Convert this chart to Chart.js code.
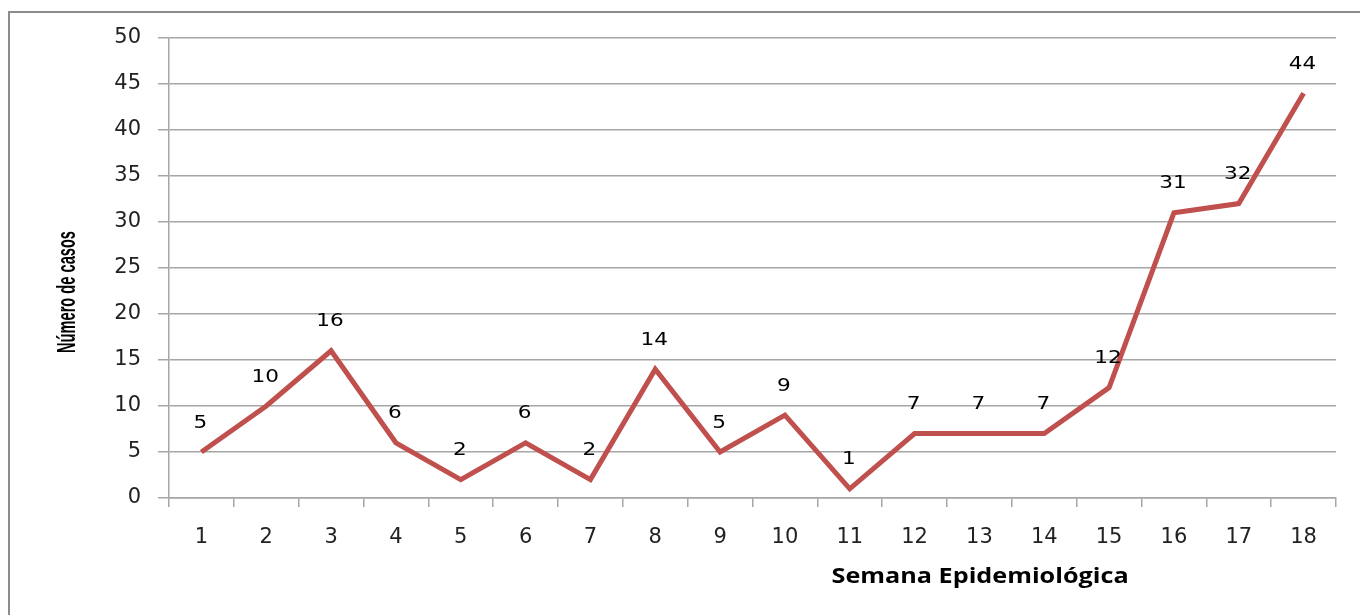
<!DOCTYPE html>
<html lang="pt-BR">
<head>
<meta charset="utf-8">
<title>Número de casos por semana epidemiológica</title>
<script src="https://cdn.jsdelivr.net/npm/chart.js@4.4.1/dist/chart.umd.min.js"></script>
<style>
    html, body { margin: 0; padding: 0; background: #fff; }
    #wrap { width: 1360px; height: 615px; position: relative; }
</style>
</head>
<body>
<div id="wrap"><canvas id="grafico-casos"></canvas></div>
<script>
// Semanas epidemiológicas e número de casos
const semanas = ['1', '2', '3', '4', '5', '6', '7', '8', '9', '10', '11', '12', '13', '14', '15', '16', '17', '18'];
const casos = [5, 10, 16, 6, 2, 6, 2, 14, 5, 9, 1, 7, 7, 7, 12, 31, 32, 44];
const ticksY = [0, 5, 10, 15, 20, 25, 30, 35, 40, 45, 50];

const COR_LINHA = '#C0504D';
const COR_GRADE = '#A6A6A6';

// Texto esticado na horizontal (fator sx)
function textoEsticado(ctx, texto, x, y, sx) {
    ctx.save();
    ctx.translate(x, y);
    ctx.scale(sx, 1);
    ctx.fillText(texto, 0, 0);
    ctx.restore();
}

// Moldura externa, rótulos de valor e títulos dos eixos
const extras = {
    id: 'extras',
    beforeDraw(chart) {
        const ctx = chart.ctx;
        ctx.save();
        ctx.strokeStyle = '#8C8C8C';
        ctx.lineWidth = 2;
        ctx.beginPath();
        ctx.moveTo(9, 620);
        ctx.lineTo(9, 12);
        ctx.lineTo(1370, 12);
        ctx.stroke();
        ctx.restore();
    },
    afterDatasetsDraw(chart) {
        const ctx = chart.ctx;
        const meta = chart.getDatasetMeta(0);
        ctx.save();
        ctx.fillStyle = '#000';
        ctx.font = '18px "DejaVu Sans", Verdana, sans-serif';
        ctx.textAlign = 'center';
        ctx.textBaseline = 'middle';
        meta.data.forEach((pt, i) => {
            textoEsticado(ctx, String(casos[i]), pt.x - 1, pt.y - 29, 1.2);
        });

        // Título do eixo X
        const area = chart.chartArea;
        ctx.font = 'bold 21px "Open Sans", "DejaVu Sans", sans-serif';
        textoEsticado(ctx, 'Semana Epidemiológica', area.left + (area.right - area.left) * 0.695, 577, 1.2);

        // Título do eixo Y
        ctx.translate(68, 292);
        ctx.rotate(-Math.PI / 2);
        ctx.font = 'bold 25px "Liberation Sans Narrow", "Liberation Sans", sans-serif';
        ctx.fillText('Número de casos', 0, 0, 122);
        ctx.restore();
    }
};

new Chart(document.getElementById('grafico-casos').getContext('2d'), {
    type: 'line',
    data: {
        labels: semanas,
        datasets: [{
            data: casos,
            borderColor: COR_LINHA,
            borderWidth: 5,
            pointRadius: 0,
            tension: 0,
            fill: false
        }]
    },
    options: {
        responsive: true,
        maintainAspectRatio: false,
        animation: false,
        layout: { padding: { left: 0, top: 38, right: 24, bottom: 0 } },
        plugins: {
            legend: { display: false },
            tooltip: { enabled: false }
        },
        scales: {
            x: {
                offset: true,
                afterFit(scale) { scale.height = 117; },
                grid: {
                    offset: true,
                    drawOnChartArea: false,
                    drawTicks: true,
                    tickLength: 9,
                    color: COR_GRADE,
                    lineWidth: 1.5
                },
                border: { color: COR_GRADE, width: 1.5 },
                ticks: {
                    color: '#222',
                    padding: 18,
                    maxRotation: 0,
                    font: { family: '"DejaVu Sans", Verdana, sans-serif', size: 21 }
                }
            },
            y: {
                min: 0,
                max: 50,
                afterFit(scale) { scale.width = 169; },
                afterBuildTicks(scale) {
                    scale.ticks = ticksY.map(v => ({ value: v }));
                },
                grid: {
                    color: COR_GRADE,
                    lineWidth: 1.5,
                    tickLength: 11
                },
                border: { color: COR_GRADE, width: 1.5 },
                ticks: {
                    color: '#222',
                    padding: 17,
                    font: { family: '"DejaVu Sans", Verdana, sans-serif', size: 21 }
                }
            }
        }
    },
    plugins: [extras]
});
</script>
</body>
</html>
